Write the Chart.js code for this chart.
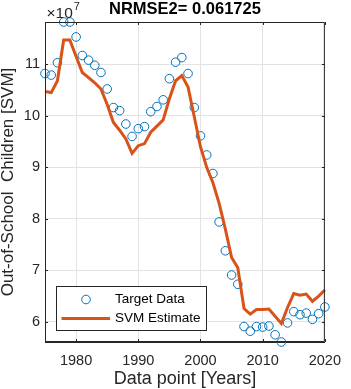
<!DOCTYPE html>
<html>
<head>
<meta charset="utf-8">
<script src="https://cdn.jsdelivr.net/npm/chart.js@4.4.1/dist/chart.umd.min.js"></script>
<style>
  html, body { margin: 0; padding: 0; background: #fff; }
  #wrap { width: 351px; height: 389px; }
</style>
</head>
<body>
<div id="wrap"><canvas id="svmChart" width="351" height="389"></canvas></div>
<script>
// values in units of 10^7 children
const years = [1975, 1976, 1977, 1978, 1979, 1980, 1981, 1982, 1983, 1984,
               1985, 1986, 1987, 1988, 1989, 1990, 1991, 1992, 1993, 1994,
               1995, 1996, 1997, 1998, 1999, 2000, 2001, 2002, 2003, 2004,
               2005, 2006, 2007, 2008, 2009, 2010, 2011, 2012, 2013, 2014,
               2015, 2016, 2017, 2018, 2019, 2020];
const targetData = [10.82, 10.79, 11.03, 11.82, 11.82, 11.53, 11.17, 11.08, 10.98, 10.84,
                    10.52, 10.16, 10.10, 9.84, 9.60, 9.75, 9.79, 10.08, 10.18, 10.31,
                    10.72, 11.04, 11.13, 10.82, 10.16, 9.61, 9.24, 8.88, 7.94, 7.38,
                    6.91, 6.73, 5.91, 5.82, 5.91, 5.90, 5.92, 5.75, 5.61, 5.98,
                    6.20, 6.14, 6.17, 6.05, 6.16, 6.29];
const svmEstimate = [10.47, 10.45, 10.68, 11.47, 11.47, 11.15, 10.84, 10.74, 10.64, 10.52,
                     10.22, 9.87, 9.72, 9.55, 9.27, 9.42, 9.46, 9.68, 9.80, 9.92,
                     10.33, 10.68, 10.78, 10.56, 9.98, 9.40, 9.00, 8.70, 8.30, 7.80,
                     7.25, 7.05, 6.26, 6.15, 6.24, 6.24, 6.25, 6.11, 5.97, 6.28,
                     6.55, 6.52, 6.54, 6.40, 6.50, 6.62];
const xTickValues = [1980, 1990, 2000, 2010, 2020];
const yTickValues = [6, 7, 8, 9, 10, 11];
const titleText = 'NRMSE2= 0.061725';
const exponent = '7';

const axisColor = '#262626';
const blue = '#0072BD';
const orange = '#D95319';
const fontFamily = '"Liberation Sans", Arial, sans-serif';

const allValues = targetData.concat(svmEstimate);
const yMin = Math.min(...allValues);
const yMax = Math.max(...allValues);

// рамка, засечки внутрь, легенда и подписи как в MATLAB
const matlabFrame = {
    id: 'matlabFrame',
    afterDatasetsDraw(chart) {
        const { ctx, chartArea: a, scales: { x, y } } = chart;
        ctx.save();
        ctx.strokeStyle = axisColor;
        ctx.lineWidth = 1;
        ctx.beginPath();
        ctx.rect(a.left + 0.5, a.top + 0.5, a.right - a.left - 1, a.bottom - a.top - 1);
        ctx.stroke();
        ctx.beginPath();
        xTickValues.forEach(v => {
            const px = Math.round(x.getPixelForValue(v)) + 0.5;
            ctx.moveTo(px, a.bottom); ctx.lineTo(px, a.bottom - 3);
            ctx.moveTo(px, a.top); ctx.lineTo(px, a.top + 3);
        });
        yTickValues.forEach(v => {
            const py = Math.round(y.getPixelForValue(v)) + 0.5;
            ctx.moveTo(a.left, py); ctx.lineTo(a.left + 3, py);
            ctx.moveTo(a.right, py); ctx.lineTo(a.right - 3, py);
        });
        ctx.stroke();
        ctx.restore();
    },
    afterDraw(chart) {
        const { ctx, chartArea: a } = chart;
        ctx.save();
        // заголовок
        ctx.fillStyle = '#000';
        ctx.font = 'bold 16.5px ' + fontFamily;
        ctx.textAlign = 'center';
        ctx.textBaseline = 'middle';
        ctx.fillText(titleText, (a.left + a.right) / 2, 9);
        // множитель оси
        ctx.fillStyle = axisColor;
        ctx.textAlign = 'left';
        ctx.textBaseline = 'alphabetic';
        ctx.font = '15.5px ' + fontFamily;
        ctx.fillText('\u00d710', 46.5, 18.3);
        const w = ctx.measureText('\u00d710').width;
        ctx.font = '11px ' + fontFamily;
        ctx.fillText(exponent, 46.5 + w + 1, 10.3);
        // легенда
        const lx = 56.5, ly = 286.5, lw = 150, lh = 44;
        ctx.fillStyle = '#fff';
        ctx.fillRect(lx, ly, lw, lh);
        ctx.strokeStyle = axisColor;
        ctx.lineWidth = 1;
        ctx.strokeRect(lx, ly, lw, lh);
        ctx.strokeStyle = blue;
        ctx.beginPath();
        ctx.arc(86, 299.5, 4.3, 0, Math.PI * 2);
        ctx.stroke();
        ctx.strokeStyle = orange;
        ctx.lineWidth = 3;
        ctx.beginPath();
        ctx.moveTo(61.5, 318.5);
        ctx.lineTo(110, 318.5);
        ctx.stroke();
        ctx.fillStyle = '#000';
        ctx.font = '13.5px ' + fontFamily;
        ctx.textBaseline = 'middle';
        ctx.fillText('Target Data', 115, 299.5);
        ctx.fillText('SVM Estimate', 115, 318.5);
        ctx.restore();
    }
};

const ctx = document.getElementById('svmChart').getContext('2d');

new Chart(ctx, {
    type: 'scatter',
    data: {
        datasets: [
            {
                label: 'Target Data',
                data: years.map((yr, i) => ({ x: yr, y: targetData[i] })),
                showLine: false,
                pointStyle: 'circle',
                pointRadius: 4.3,
                pointBorderWidth: 1,
                pointBorderColor: blue,
                pointBackgroundColor: 'rgba(0,0,0,0)',
                clip: false,
                order: 2
            },
            {
                type: 'line',
                label: 'SVM Estimate',
                data: years.map((yr, i) => ({ x: yr, y: svmEstimate[i] })),
                borderColor: orange,
                borderWidth: 3,
                pointRadius: 0,
                tension: 0,
                fill: false,
                clip: false,
                order: 1
            }
        ]
    },
    options: {
        responsive: false,
        animation: false,
        devicePixelRatio: 1,
        layout: { padding: { left: 0, right: 16.5, top: 22, bottom: 0 } },
        plugins: {
            legend: { display: false },
            title: { display: false },
            tooltip: { enabled: false }
        },
        scales: {
            x: {
                type: 'linear',
                min: 1975,
                max: 2020,
                afterBuildTicks: s => { s.ticks = xTickValues.map(v => ({ value: v })); },
                afterFit: s => { s.height = 47; },
                ticks: {
                    color: axisColor,
                    font: { family: fontFamily, size: 14.5 },
                    padding: 10,
                    maxRotation: 0,
                    callback: v => String(v)
                },
                grid: { color: '#e3e3e3', drawTicks: false },
                border: { display: true, color: axisColor },
                title: {
                    display: true,
                    text: 'Data point [Years]',
                    color: axisColor,
                    font: { family: fontFamily, size: 18, lineHeight: 1 },
                    padding: { top: 0, bottom: 1 }
                }
            },
            y: {
                type: 'linear',
                min: yMin,
                max: yMax,
                afterBuildTicks: s => { s.ticks = yTickValues.map(v => ({ value: v })); },
                afterFit: s => { s.width = 45; },
                ticks: {
                    color: axisColor,
                    font: { family: fontFamily, size: 14.5 },
                    padding: 5,
                    callback: v => String(v)
                },
                grid: { color: '#e3e3e3', drawTicks: false },
                border: { display: true, color: axisColor },
                title: {
                    display: true,
                    text: 'Out-of-School  Children [SVM]',
                    color: axisColor,
                    font: { family: fontFamily, size: 17, lineHeight: 1 },
                    padding: { top: 0, bottom: 0 }
                }
            }
        }
    },
    plugins: [matlabFrame]
});
</script>
</body>
</html>
